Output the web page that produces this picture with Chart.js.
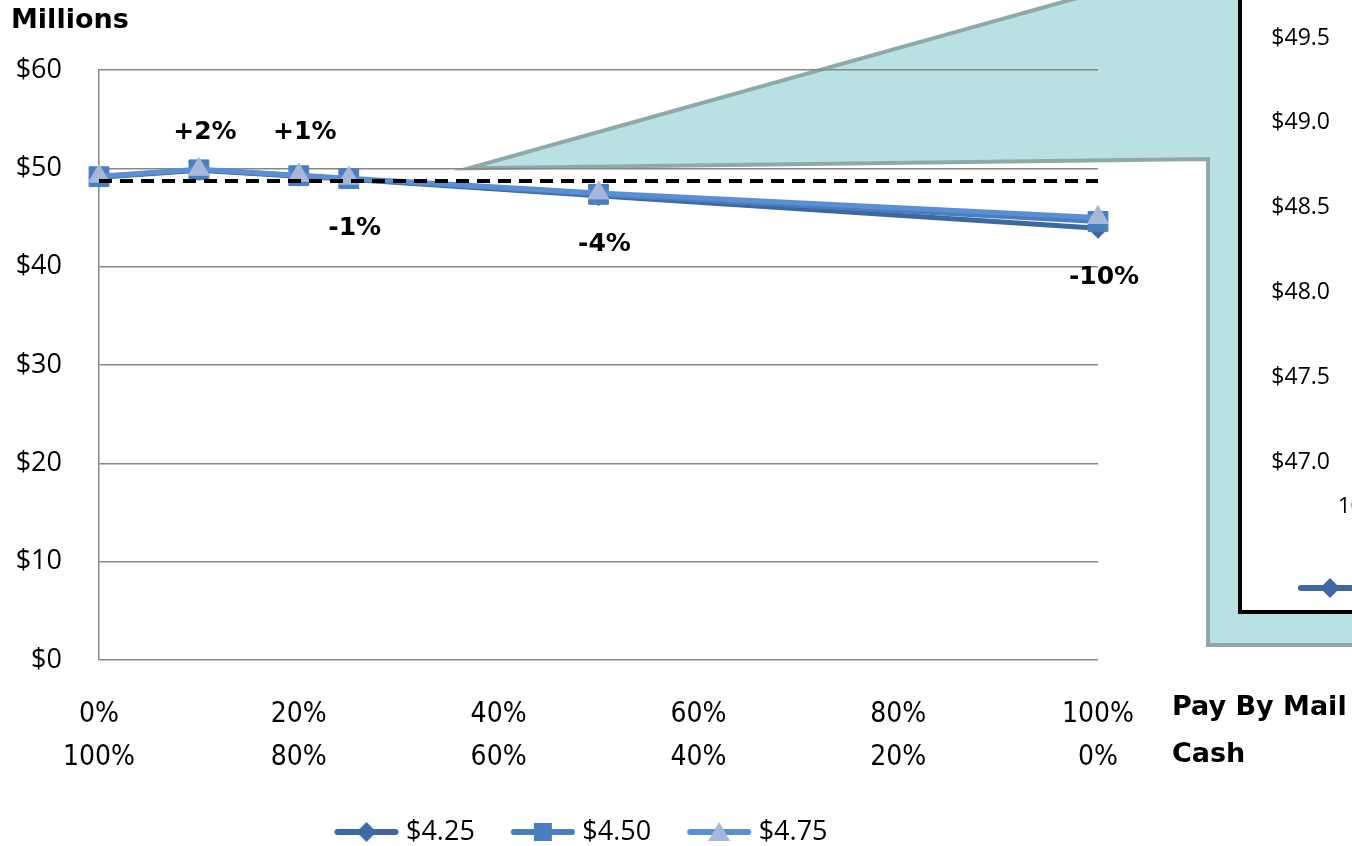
<!DOCTYPE html>
<html lang="en">
<head>
<meta charset="UTF-8">
<title>Revenue by payment mix</title>
<style>
  html, body { margin: 0; padding: 0; overflow: hidden; background: #fff; }
  #wrap { position: absolute; left: 0; top: 0; width: 1352px; height: 846px; }
  #inset { position: absolute; left: 1238px; top: -20px; width: 900px; height: 626px; border: 4px solid #000; background: #fff; }
</style>
</head>
<body>
<div id="wrap"><canvas id="main"></canvas></div>
<div id="inset"><canvas id="zoom"></canvas></div>

<script src="https://cdn.jsdelivr.net/npm/chart.js"></script>
<script>
// pay-by-mail share (%) and revenue in $ millions per toll price
const payByMail = [0, 10, 20, 25, 50, 100];
const price425 = [49.1, 49.8, 49.2, 48.9, 47.2, 43.9];
const price450 = [49.15, 49.85, 49.25, 48.95, 47.35, 44.6];
const price475 = [49.2, 49.9, 49.3, 49.0, 47.5, 45.0];
const baseline = 48.7;
const changeLabels = ['', '+2%', '+1%', '-1%', '-4%', '-10%'];
const labelSide = ['', 'above', 'above', 'below', 'below', 'below'];
const seriesNames = ['$4.25', '$4.50', '$4.75'];

const mixTicks = [0, 20, 40, 60, 80, 100];
const mailTicks = ['0%', '20%', '40%', '60%', '80%', '100%'];
const cashTicks = ['100%', '80%', '60%', '40%', '20%', '0%'];
const yTicks = [0, 10, 20, 30, 40, 50, 60];
const insetTicks = [47.0, 47.5, 48.0, 48.5, 49.0, 49.5];
const insetMix = [10, 20, 25];

const colors = {
  c425: '#3E68A0',
  c450: '#4A7EBE',
  c475: '#5A8FD6',
  tri: '#A7B7D8',
  grid: '#878787'
};

const pts = arr => payByMail.map((x, i) => ({ x: x, y: arr[i] }));

// little line + marker pictures for the legend
function legendIcon(lineColor, shape, fill) {
  const c = document.createElement('canvas');
  c.width = 66; c.height = 26;
  const g = c.getContext('2d');
  g.strokeStyle = lineColor; g.lineWidth = 6; g.lineCap = 'round';
  g.beginPath(); g.moveTo(4, 13); g.lineTo(62, 13); g.stroke();
  g.fillStyle = fill;
  g.beginPath();
  if (shape === 'diamond') {
    g.moveTo(33, 3); g.lineTo(43, 13); g.lineTo(33, 23); g.lineTo(23, 13);
  } else if (shape === 'square') {
    g.rect(24, 4, 18, 18);
  } else {
    g.moveTo(33, 3); g.lineTo(44, 22); g.lineTo(22, 22);
  }
  g.closePath(); g.fill();
  return c;
}
const icons = [
  legendIcon(colors.c425, 'diamond', colors.c425),
  legendIcon(colors.c450, 'square', colors.c450),
  legendIcon(colors.c475, 'triangle', colors.tri)
];
const legendItems = () => seriesNames.map((name, i) => ({
  text: name, pointStyle: icons[i], datasetIndex: i, hidden: false,
  lineWidth: 0, strokeStyle: 'rgba(0,0,0,0)', fillStyle: 'rgba(0,0,0,0)', fontColor: '#000'
}));

function seriesSets(noClip) {
  return [
    { label: '$4.25', data: pts(price425), borderColor: colors.c425, backgroundColor: colors.c425,
      borderWidth: 5, pointStyle: 'rectRot', pointRadius: 10, pointBorderWidth: 1, order: 3, clip: noClip ? false : undefined },
    { label: '$4.50', data: pts(price450), borderColor: colors.c450, backgroundColor: colors.c450,
      borderWidth: 5, pointStyle: 'rect', pointRadius: 14, pointBorderWidth: 1, order: 2, clip: noClip ? false : undefined },
    { label: '$4.75', data: pts(price475), borderColor: colors.c475, backgroundColor: colors.tri,
      pointBorderColor: colors.tri, borderWidth: 5, pointStyle: 'triangle', pointRadius: 12,
      pointBorderWidth: 1, order: 1, clip: noClip ? false : undefined }
  ];
}

// teal callout pointing to the zoom box
const calloutPlugin = {
  id: 'callout',
  beforeDraw(chart) {
    const ctx = chart.ctx;
    const tipX = chart.scales.x.getPixelForValue(37);
    const tipY = chart.scales.y.getPixelForValue(50);
    const topX = tipX + (tipY + 100) * (1070 - tipX) / tipY;
    ctx.save();
    ctx.beginPath();
    ctx.moveTo(tipX, tipY);
    ctx.lineTo(1208, 159);
    ctx.lineTo(1208, 645);
    ctx.lineTo(1470, 645);
    ctx.lineTo(1470, -100);
    ctx.lineTo(topX, -100);
    ctx.closePath();
    ctx.fillStyle = '#B9E0E3';
    ctx.fill();
    ctx.lineWidth = 4;
    ctx.lineJoin = 'miter';
    ctx.strokeStyle = '#8FA9A9';
    ctx.stroke();
    ctx.restore();
  }
};

const textPlugin = {
  id: 'texts',
  afterDraw(chart) {
    const ctx = chart.ctx;
    const xs = chart.scales.x, ys = chart.scales.y;
    ctx.save();
    ctx.fillStyle = '#000';
    ctx.textBaseline = 'middle';
    ctx.font = "bold 27px 'DejaVu Sans'";
    ctx.textAlign = 'left';
    ctx.fillText('Millions', 11, 21);
    ctx.fillText('Pay By Mail', 1172, 708);
    ctx.fillText('Cash', 1172, 755);

    ctx.font = "bold 25px 'DejaVu Sans'";
    ctx.textAlign = 'center';
    const topY = ys.getPixelForValue(Math.max.apply(null, price425)) - 38;
    changeLabels.forEach((t, i) => {
      if (!t) return;
      const px = xs.getPixelForValue(payByMail[i]) + 6;
      const py = labelSide[i] === 'above' ? topY : ys.getPixelForValue(price425[i]) + 49;
      ctx.fillText(t, px, py);
    });
    ctx.restore();
  }
};

new Chart(document.getElementById('main'), {
  type: 'line',
  data: {
    datasets: seriesSets(true).concat([{
      label: 'base', data: [{ x: 0, y: baseline }, { x: 100, y: baseline }],
      borderColor: '#000', borderWidth: 4, borderDash: [13, 8], pointRadius: 0, order: 0
    }])
  },
  options: {
    responsive: true,
    maintainAspectRatio: false,
    animation: false,
    events: [],
    layout: { padding: { left: 0, right: 184, top: 70, bottom: -9.5 } },
    scales: {
      x: {
        type: 'linear', min: 0, max: 100,
        afterBuildTicks: s => { s.ticks = mixTicks.map(v => ({ value: v })); },
        afterFit: s => { s.height = 116.5; },
        grid: { display: false },
        border: { display: false },
        ticks: {
          padding: 25, maxRotation: 0, autoSkip: false, color: '#000',
          font: { family: "'DejaVu Sans Condensed', 'Liberation Sans'", size: 28, lineHeight: 1.54 },
          callback: (v, i) => [mailTicks[i], cashTicks[i]]
        }
      },
      y: {
        min: 0, max: 60,
        afterBuildTicks: s => { s.ticks = yTicks.map(v => ({ value: v })); },
        afterFit: s => { s.width = 99; },
        grid: { color: colors.grid, lineWidth: 1.5, drawTicks: false },
        border: { color: colors.grid, width: 1.5 },
        ticks: {
          padding: 37, color: '#000',
          font: { family: "'Open Sans'", size: 27 },
          callback: v => '$' + v
        }
      },
      y2: {
        position: 'right', display: true,
        grid: { display: false }, border: { display: false }, ticks: { display: false },
        afterFit: s => { s.width = 70; }
      }
    },
    plugins: {
      legend: {
        position: 'bottom',
        labels: {
          usePointStyle: true, pointStyleWidth: 52, padding: 42, color: '#000',
          font: { family: "'Open Sans'", size: 27 },
          generateLabels: legendItems
        }
      },
      tooltip: { enabled: false }
    }
  },
  plugins: [calloutPlugin, textPlugin]
});

// the zoomed chart inside the callout, mostly past the right edge
new Chart(document.getElementById('zoom'), {
  type: 'line',
  data: { datasets: seriesSets(false) },
  options: {
    responsive: true,
    maintainAspectRatio: false,
    animation: false,
    events: [],
    layout: { padding: { left: 0, right: 0, top: 16, bottom: 1 } },
    scales: {
      x: {
        type: 'linear', min: 9.84, max: 26,
        afterBuildTicks: s => { s.ticks = insetMix.map(v => ({ value: v })); },
        afterFit: s => { s.height = 42; s.paddingLeft = 0; s.paddingRight = 0; },
        grid: { display: false },
        border: { display: false },
        ticks: {
          padding: 6, maxRotation: 0, color: '#000',
          font: { family: "'Open Sans'", size: 22 },
          callback: v => v + '%'
        }
      },
      y: {
        min: 46.894, max: 49.724,
        afterBuildTicks: s => { s.ticks = insetTicks.map(v => ({ value: v })); },
        afterFit: s => { s.width = 110; s.paddingTop = 0; s.paddingBottom = 0; },
        grid: { color: colors.grid, drawTicks: false },
        border: { display: false },
        ticks: {
          padding: 22, color: '#000',
          font: { family: "'Open Sans'", size: 23 },
          callback: v => '$' + v.toFixed(1)
        }
      }
    },
    plugins: {
      legend: {
        position: 'bottom', align: 'start',
        labels: {
          usePointStyle: true, pointStyleWidth: 66, padding: 55, color: '#000',
          font: { family: "'Open Sans'", size: 22 },
          generateLabels: legendItems
        }
      },
      tooltip: { enabled: false }
    }
  }
});
</script>
</body>
</html>
